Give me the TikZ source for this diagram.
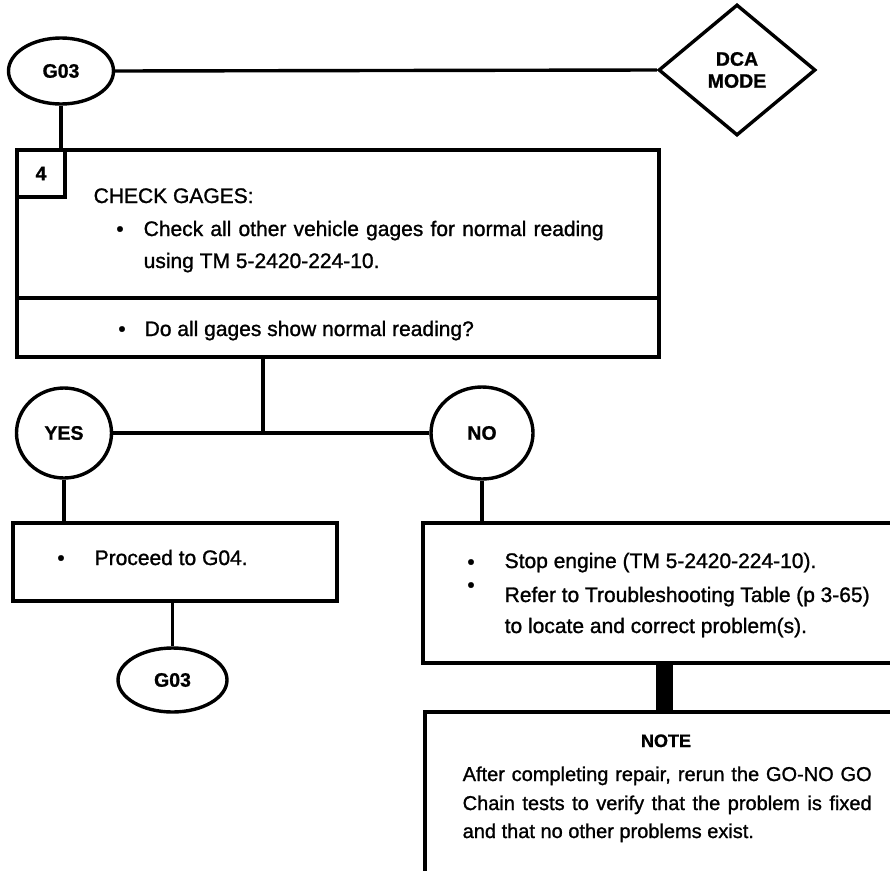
\documentclass[tikz,border=0pt]{standalone}
\usepackage{fontspec}
\setmainfont{Liberation Sans}[FakeBold=1.2]
\newfontfamily\lblfont{Liberation Sans Bold}[FakeBold=1.0]
\usetikzlibrary{shapes.geometric}
\begin{document}
\begin{tikzpicture}[x=1pt,y=-1pt,
  line width=3.4pt,
  lbl/.style={font=\lblfont\fontsize{19.5}{22}\selectfont, inner sep=0pt},
  oval/.style={draw, ellipse, inner sep=0pt, lbl},
  boxn/.style={draw, rectangle, inner sep=0pt},
  txt/.style={font=\fontsize{21}{25}\selectfont, inner sep=0pt, anchor=base west},
  bul/.style={font=\fontsize{21}{25}\selectfont, inner sep=0pt, anchor=base},
  notetxt/.style={font=\fontsize{20}{25}\selectfont, inner sep=0pt, anchor=base west},
  barline/.style={line width=17pt},
]
\clip (0,0) rectangle (890,870);
% top row
\node[oval, minimum width=105pt, minimum height=66pt] (g03a) at (61,71) {G03};
\node[draw, diamond, inner sep=0pt, minimum width=157pt, minimum height=131pt, lbl, align=center] (dca) at (737,70) {DCA\\MODE};
\draw (g03a.east) -- (dca.west);
% main box
\node[boxn, minimum width=642pt, minimum height=207pt] (main) at (338,253.5) {};
\node[boxn, minimum width=48pt, minimum height=47pt, lbl] (num) at (41,173.5) {4};
\coordinate (divy) at (0,298);
\draw (main.west |- divy) -- (main.east |- divy);
\draw (g03a.south) -- (g03a.south |- main.north);
\node[txt] (t1) at (92,203) {CHECK GAGES:};
\node[bul] (b1) at (120,236) {•};
\node[txt] (t2) at (142,236) {\makebox[460pt][s]{Check all other vehicle gages for normal reading}};
\node[txt] (t3) at (142,268) {using TM 5-2420-224-10.};
\node[bul] (b2) at (122,336) {•};
\node[txt] (t4) at (143,336) {Do all gages show normal reading?};
% yes / no
\node[oval, minimum width=95pt, minimum height=90pt] (yes) at (64,433) {YES};
\node[oval, minimum width=102pt, minimum height=92pt] (no) at (482,433) {NO};
\coordinate (jn) at (263,433);
\draw (main.south -| jn) -- (jn);
\draw (yes.east) -- (no.west);
% yes branch
\node[boxn, minimum width=324pt, minimum height=78pt] (proc) at (175,562) {};
\draw (yes.south) -- (yes.south |- proc.north);
\node[bul] (b3) at (61,565) {•};
\node[txt] (t5) at (93,565) {Proceed to G04.};
\node[oval, minimum width=109pt, minimum height=64pt] (g03b) at (172.5,680) {G03};
\draw (proc.south -| g03b) -- (g03b.north);
% no branch
\node[boxn, minimum width=482pt, minimum height=140pt] (nobox) at (664,593) {};
\draw (no.south) -- (no.south |- nobox.north);
\node[bul] (b4) at (471,569) {•};
\node[bul] (b5) at (471,592) {•};
\node[txt] (t6) at (503,568) {Stop engine (TM 5-2420-224-10).};
\node[txt] (t7) at (503,602) {\makebox[365pt][s]{Refer to Troubleshooting Table (p 3-65)}};
\node[txt] (t8) at (503,633) {to locate and correct problem(s).};
% note
\node[boxn, minimum width=480pt, minimum height=188pt] (note) at (665,806) {};
\coordinate (barx) at (664.5,0);
\draw[barline] (nobox.south -| barx) -- (note.north -| barx);
\node[font=\lblfont\fontsize{18}{22}\selectfont, inner sep=0pt, anchor=base] (nh) at (666,747) {NOTE};
\node[notetxt] (n1) at (461,781) {\makebox[409pt][s]{After completing repair, rerun the GO-NO GO}};
\node[notetxt] (n2) at (461,810) {\makebox[409pt][s]{Chain tests to verify that the problem is fixed}};
\node[notetxt] (n3) at (461,838) {and that no other problems exist.};
\end{tikzpicture}
\end{document}
